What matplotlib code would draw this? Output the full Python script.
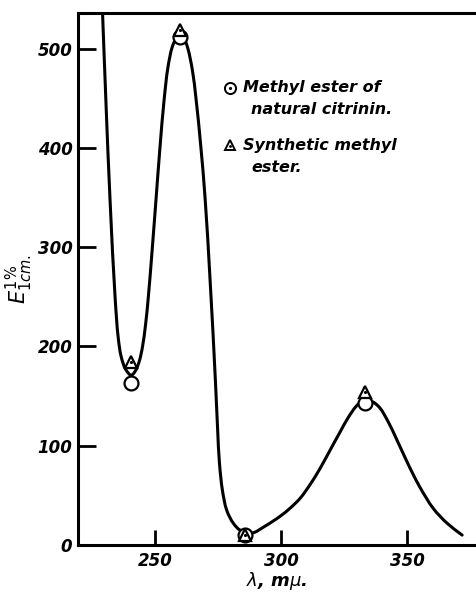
import numpy as np
import matplotlib
matplotlib.use("Agg")
import matplotlib.pyplot as plt
from matplotlib.path import Path
from matplotlib.patches import PathPatch

# absorption curve (wavelength in m-mu, E 1% 1cm)
curve_lam = [229.0, 230.5, 232.1, 234.1, 235.3, 236.5, 238.3, 240.5, 242.3, 243.8,
             245.0, 246.2, 247.3, 248.9, 250.4, 251.9, 253.5, 255.0, 256.7, 258.3,
             260.0, 261.5, 263.0, 264.8, 266.2, 268.1, 269.8, 271.8, 273.9, 274.8,
             275.5, 276.7, 278.4, 281.0, 283.7, 288.3, 293.6, 299.6, 303.5, 307.5,
             311.5, 315.4, 319.5, 323.4, 326.5, 329.5, 332.0, 334.0, 336.5, 339.2,
             342.5, 345.9, 349.9, 352.4, 355.1, 360.3, 365.8, 371.8]
curve_E = [545, 445, 348, 250, 210, 190, 177, 171, 176, 186,
           200, 222, 250, 300, 350, 400, 447, 480, 501, 510,
           513, 510, 500, 478, 450, 402, 350, 267, 166, 116,
           83, 55, 35, 22, 15, 12, 19, 29, 37, 47,
           61, 77, 96, 114, 128, 139, 145, 146, 144, 138,
           124, 106, 84, 71, 58, 37, 22, 10]

# measured points
natural_lam = [240.5, 259.9, 285.5, 333.3]
natural_E = [163, 512, 10, 143]
synth_lam = [240.5, 259.9, 285.8, 333.3]
synth_E = [184, 519, 10, 154]

xticks = [250, 300, 350]
yticks = [0, 100, 200, 300, 400, 500]

tfont = dict(family="DejaVu Sans", style="italic", weight="bold")


def smooth_path(xs, ys, sx=2.52, sy=0.992, alpha=0.5):
    # centripetal Catmull-Rom through the read points, as cubic Bezier segments
    p = np.column_stack([np.asarray(xs) * sx, np.asarray(ys) * sy])
    p = np.vstack([2 * p[0] - p[1], p, 2 * p[-1] - p[-2]])
    verts = [p[1]]
    codes = [Path.MOVETO]
    for i in range(1, len(p) - 2):
        p0, p1, p2, p3 = p[i - 1], p[i], p[i + 1], p[i + 2]
        d01 = max(np.linalg.norm(p1 - p0) ** alpha, 1e-6)
        d12 = max(np.linalg.norm(p2 - p1) ** alpha, 1e-6)
        d23 = max(np.linalg.norm(p3 - p2) ** alpha, 1e-6)
        m1 = d12 * ((p1 - p0) / d01 - (p2 - p0) / (d01 + d12) + (p2 - p1) / d12)
        m2 = d12 * ((p2 - p1) / d12 - (p3 - p1) / (d12 + d23) + (p3 - p2) / d23)
        verts += [p1 + m1 / 3, p2 - m2 / 3, p2]
        codes += [Path.CURVE4] * 3
    verts = np.array(verts) / [sx, sy]
    return Path(verts, codes)


fig = plt.figure(figsize=(4.76, 5.95), dpi=100)
ax = fig.add_axes([0.1639, 0.0840, 0.8361, 0.8942])

ax.add_patch(PathPatch(smooth_path(curve_lam, curve_E), facecolor="none",
                       edgecolor="black", lw=2.2, capstyle="round", zorder=2))

ax.plot(natural_lam, natural_E, "o", ms=10, mfc="white", mec="black", mew=1.6,
        ls="none", zorder=3)
ax.plot(synth_lam, synth_E, "^", ms=9, mfc="white", mec="black", mew=1.6,
        ls="none", zorder=4)
ax.plot(synth_lam, synth_E, ".", ms=2.5, color="black", ls="none", zorder=5)

ax.set_xlim(219.4, 377.3)
ax.set_ylim(0, 536)
ax.set_xticks(xticks)
ax.set_yticks(yticks)
ax.tick_params(direction="in", width=2, color="black")
ax.tick_params(axis="y", length=13, pad=4, labelsize=12)
ax.tick_params(axis="x", length=11, pad=5, labelsize=12)
for lab in ax.get_xticklabels() + ax.get_yticklabels():
    lab.set_fontstyle("italic")
    lab.set_fontweight("bold")

for s in ["left", "bottom", "top"]:
    ax.spines[s].set_linewidth(2.2)
ax.spines["right"].set_visible(False)

ax.set_xlabel(r"$\lambda$, m$\mu$.", fontsize=13, labelpad=0, **tfont)
ax.set_ylabel(r"$E^{1\%}_{1cm.}$", fontsize=15, labelpad=2)

# legend drawn by hand
ax.plot([0.382], [0.859], "o", ms=8, mfc="white", mec="black", mew=1.4,
        transform=ax.transAxes, clip_on=False)
ax.plot([0.382], [0.859], ".", ms=2.5, color="black", transform=ax.transAxes)
ax.plot([0.382], [0.752], "^", ms=7, mfc="white", mec="black", mew=1.4,
        transform=ax.transAxes, clip_on=False)
ax.plot([0.382], [0.750], ".", ms=2, color="black", transform=ax.transAxes)
ax.text(0.415, 0.859, "Methyl ester of", transform=ax.transAxes,
        va="center", ha="left", fontsize=11.5, **tfont)
ax.text(0.435, 0.818, "natural citrinin.", transform=ax.transAxes,
        va="center", ha="left", fontsize=11.5, **tfont)
ax.text(0.415, 0.750, "Synthetic methyl", transform=ax.transAxes,
        va="center", ha="left", fontsize=11.5, **tfont)
ax.text(0.435, 0.709, "ester.", transform=ax.transAxes,
        va="center", ha="left", fontsize=11.5, **tfont)

fig.savefig("out.png", dpi=100)
